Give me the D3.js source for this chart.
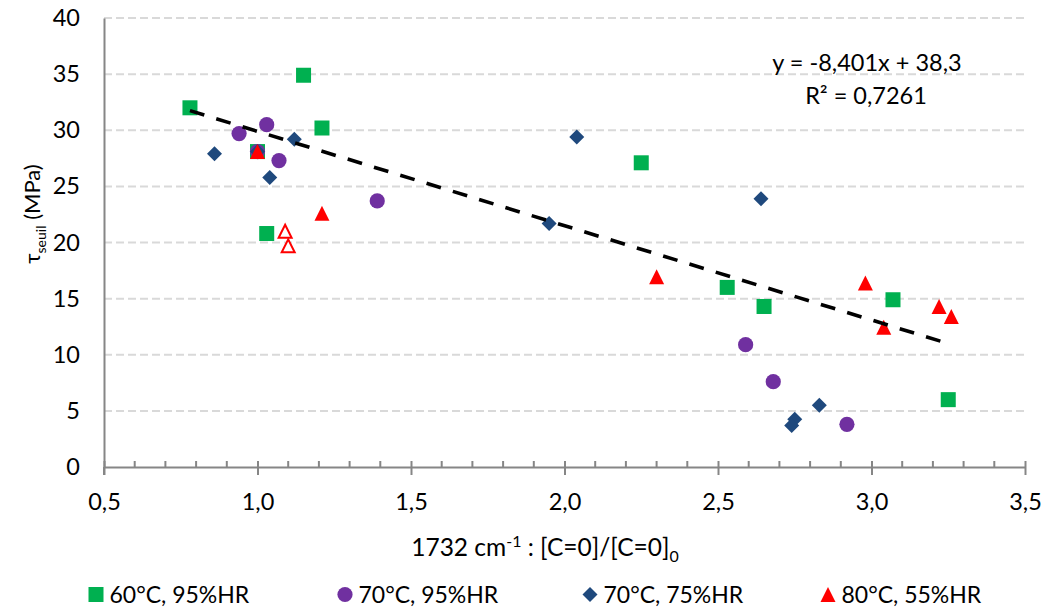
<!DOCTYPE html>
<html><head><meta charset="utf-8">
<script src="https://cdn.jsdelivr.net/npm/d3@7"></script>
<style>body{margin:0;background:#fff}svg{display:block}text{font-family:Lato,"Open Sans",sans-serif;fill:#000}</style>
</head><body>
<svg id="chart" width="1045" height="612"></svg>
<script>
// ---- data ----
const seriesNames = ["60°C, 95%HR", "70°C, 95%HR", "70°C, 75%HR", "80°C, 55%HR"];
const s60_95_x = [0.78, 1.15, 1.21, 1.00, 1.03, 2.25, 2.53, 2.65, 3.07, 3.25];
const s60_95_y = [32.0, 34.9, 30.2, 28.1, 20.8, 27.1, 16.0, 14.3, 14.9, 6.0];
const s70_95_x = [0.94, 1.00, 1.03, 1.07, 1.39, 2.59, 2.68, 2.92];
const s70_95_y = [29.7, 28.1, 30.5, 27.3, 23.7, 10.9, 7.6, 3.8];
const s70_75_x = [0.86, 1.00, 1.04, 1.12, 1.95, 2.04, 2.64, 2.75, 2.74, 2.83];
const s70_75_y = [27.9, 28.1, 25.8, 29.2, 21.7, 29.4, 23.9, 4.25, 3.7, 5.5];
const s80_55_x = [1.00, 1.21, 2.30, 2.98, 3.04, 3.22, 3.26];
const s80_55_y = [28.1, 22.6, 16.95, 16.4, 12.45, 14.3, 13.4];
const s80_55_open_x = [1.09, 1.10];
const s80_55_open_y = [21.0, 19.7];
const xTicks = [0.5, 1.0, 1.5, 2.0, 2.5, 3.0, 3.5];
const yTicks = [0, 5, 10, 15, 20, 25, 30, 35, 40];
const trendSlope = -8.401, trendIntercept = 38.3;
const trendLabel1 = "y = -8,401x + 38,3";
const trendLabel2 = "R² = 0,7261";

// ---- layout ----
const svg = d3.select("#chart");
const L = 104, R = 1025, T = 18, B = 467;
const x = d3.scaleLinear().domain([0.5, 3.5]).range([L, R]);
const y = d3.scaleLinear().domain([0, 40]).range([B, T]);
const fmt = d => d3.format(".1f")(d).replace(".", ",");
const axisCol = "#868686";
const FS = "23.5px";

// gridlines
svg.append("g").selectAll("line").data(yTicks.filter(v => v > 0)).join("line")
  .attr("x1", L).attr("x2", R).attr("y1", d => y(d)).attr("y2", d => y(d))
  .attr("stroke", "#d9d9d9").attr("stroke-width", 2).attr("stroke-dasharray", "8,4");

// y axis
const yAxis = svg.append("g").attr("transform", `translate(${L},0)`)
  .call(d3.axisLeft(y).tickValues(yTicks).tickSize(0).tickPadding(24).tickFormat(d3.format("d")));
yAxis.select(".domain").attr("stroke", axisCol).attr("stroke-width", 2);
yAxis.selectAll("text").style("font-size", FS).style("font-family", "Lato");

// x axis minor ticks (inside)
const minor = d3.range(5, 36).map(v => v / 10).filter(v => Math.abs(v * 2 - Math.round(v * 2)) > 1e-6);
svg.append("g").selectAll("line").data(minor).join("line")
  .attr("x1", d => x(d)).attr("x2", d => x(d)).attr("y1", B - 6).attr("y2", B)
  .attr("stroke", axisCol).attr("stroke-width", 2);
const xAxis = svg.append("g").attr("transform", `translate(0,${B})`)
  .call(d3.axisBottom(x).tickValues(xTicks).tickSizeInner(8).tickSizeOuter(0).tickPadding(18).tickFormat(fmt));
xAxis.select(".domain").attr("stroke", axisCol).attr("stroke-width", 2);
xAxis.selectAll(".tick line").attr("stroke", axisCol).attr("stroke-width", 2).attr("y1", -6);
xAxis.selectAll("text").style("font-size", FS).style("font-family", "Lato");
svg.append("line").attr("x1", L).attr("x2", L).attr("y1", B).attr("y2", B + 8).attr("stroke", axisCol).attr("stroke-width", 2);

// axis titles
const xt = svg.append("text").attr("x", 545).attr("y", 556).attr("text-anchor", "middle").style("font-size", "24.5px");
xt.append("tspan").text("1732 cm");
xt.append("tspan").attr("dy", -9).style("font-size", "16px").text("-1");
xt.append("tspan").attr("dy", 9).text(" : [C=0]/[C=0]");
xt.append("tspan").attr("dy", 6).style("font-size", "16px").text("0");

const yt = svg.append("text").attr("transform", "translate(40,214) rotate(-90)").attr("text-anchor", "middle").style("font-size", "22px");
yt.append("tspan").text("τ");
yt.append("tspan").attr("dy", 6).style("font-size", "14px").text("seuil");
yt.append("tspan").attr("dy", -6).text(" (MPa)");

// marker shapes
const sq = 15;
function drawMarker(g, type, cx, cy) {
  if (type === 0) g.append("rect").attr("x", cx - sq / 2).attr("y", cy - sq / 2).attr("width", sq).attr("height", sq).attr("fill", "#00b050");
  else if (type === 1) g.append("circle").attr("cx", cx).attr("cy", cy).attr("r", 7.6).attr("fill", "#7030a0");
  else if (type === 2) g.append("path").attr("d", `M${cx},${cy - 7.5}L${cx + 7.5},${cy}L${cx},${cy + 7.5}L${cx - 7.5},${cy}Z`).attr("fill", "#1f497d");
  else if (type === 3) g.append("path").attr("d", `M${cx},${cy - 7.5}L${cx + 7.5},${cy + 7.5}L${cx - 7.5},${cy + 7.5}Z`).attr("fill", "#ff0000");
  else if (type === 4) g.append("path").attr("d", `M${cx},${cy - 6.5}L${cx + 6.5},${cy + 6.5}L${cx - 6.5},${cy + 6.5}Z`).attr("fill", "#fff").attr("stroke", "#ff0000").attr("stroke-width", 2);
}
const series = [
  [s60_95_x, s60_95_y, 0], [s70_95_x, s70_95_y, 1], [s70_75_x, s70_75_y, 2], [s80_55_x, s80_55_y, 3], [s80_55_open_x, s80_55_open_y, 4]
];
const marks = svg.append("g");
series.forEach(([xs, ys, t]) => xs.forEach((v, i) => drawMarker(marks, t, x(v), y(ys[i]))));

// trend line
const allX = [].concat(s60_95_x, s70_95_x, s70_75_x, s80_55_x, s80_55_open_x);
const x0 = d3.min(allX), x1 = d3.max(allX);
svg.append("line").attr("x1", x(x0)).attr("y1", y(trendSlope * x0 + trendIntercept))
  .attr("x2", x(x1)).attr("y2", y(trendSlope * x1 + trendIntercept))
  .attr("stroke", "#000").attr("stroke-width", 3.6).attr("stroke-dasharray", "15,12.5");

svg.append("text").attr("x", 867).attr("y", 71).attr("text-anchor", "middle").style("font-size", FS).text(trendLabel1);
svg.append("text").attr("x", 866).attr("y", 104).attr("text-anchor", "middle").style("font-size", FS).text(trendLabel2);

// legend
const legX = [96, 345, 590, 828];
const lg = svg.append("g");
seriesNames.forEach((n, i) => {
  drawMarker(lg, i, legX[i], 594.5);
  lg.append("text").attr("x", legX[i] + 13.5).attr("y", 602.5).style("font-size", "23px").text(n);
});
</script>
</body></html>
